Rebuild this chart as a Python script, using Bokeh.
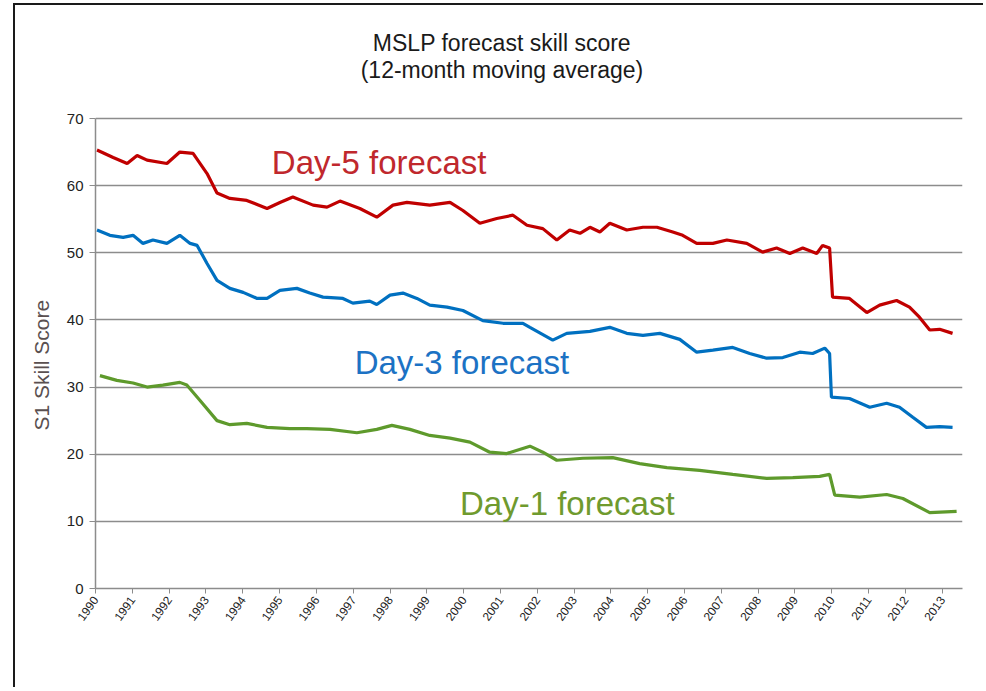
from bokeh.plotting import figure
from bokeh.models import FixedTicker, Label, Title
from bokeh.embed import file_html
from bokeh.resources import INLINE

# ---- data (decimal years, S1 skill score) ----
day5_x = [1990.04, 1990.48, 1990.86, 1991.13, 1991.40, 1991.94, 1992.29, 1992.65, 1993.03, 1993.30,
          1993.65, 1994.11, 1994.66, 1995.01, 1995.36, 1995.91, 1996.29, 1996.64, 1997.18, 1997.64,
          1998.08, 1998.46, 1999.08, 1999.63, 1999.98, 2000.44, 2000.90, 2001.34, 2001.72, 2002.15,
          2002.53, 2002.88, 2003.16, 2003.43, 2003.70, 2003.97, 2004.43, 2004.87, 2005.25, 2005.68,
          2005.95, 2006.33, 2006.77, 2007.15, 2007.69, 2008.12, 2008.50, 2008.86, 2009.21, 2009.59,
          2009.75, 2009.94, 2010.02, 2010.48, 2010.95, 2011.30, 2011.76, 2012.11, 2012.38, 2012.66,
          2012.93, 2013.28]
day5_y = [65.3, 64.2, 63.3, 64.5, 63.8, 63.3, 65.0, 64.8, 61.8, 58.9,
          58.1, 57.8, 56.6, 57.5, 58.3, 57.1, 56.8, 57.7, 56.6, 55.3,
          57.1, 57.5, 57.1, 57.5, 56.3, 54.4, 55.1, 55.6, 54.1, 53.6,
          51.9, 53.4, 52.9, 53.8, 53.1, 54.4, 53.4, 53.8, 53.8, 53.1,
          52.6, 51.4, 51.4, 51.9, 51.4, 50.1, 50.7, 49.9, 50.7, 49.9,
          51.1, 50.7, 43.4, 43.2, 41.1, 42.2, 42.9, 41.9, 40.4, 38.5,
          38.6, 38.0]

day3_x = [1990.04, 1990.39, 1990.75, 1991.02, 1991.29, 1991.56, 1991.94, 1992.29, 1992.57, 1992.76,
          1993.03, 1993.30, 1993.65, 1994.01, 1994.39, 1994.66, 1995.01, 1995.47, 1995.82, 1996.18,
          1996.72, 1996.99, 1997.45, 1997.64, 1998.00, 1998.35, 1998.73, 1999.08, 1999.55, 1999.98,
          2000.52, 2001.07, 2001.61, 2001.80, 2002.42, 2002.80, 2003.43, 2003.97, 2004.43, 2004.87,
          2005.33, 2005.87, 2006.33, 2006.77, 2007.31, 2007.77, 2008.23, 2008.67, 2009.13, 2009.48,
          2009.81, 2009.94, 2009.99, 2010.48, 2011.03, 2011.49, 2011.84, 2012.20, 2012.57, 2012.93,
          2013.28]
day3_y = [53.4, 52.6, 52.3, 52.6, 51.4, 51.9, 51.4, 52.6, 51.4, 51.1,
          48.4, 45.9, 44.7, 44.1, 43.2, 43.2, 44.4, 44.7, 44.0, 43.4,
          43.2, 42.5, 42.8, 42.3, 43.7, 44.0, 43.2, 42.2, 41.9, 41.4,
          39.9, 39.5, 39.5, 38.9, 37.0, 38.0, 38.3, 38.9, 38.0, 37.7,
          38.0, 37.1, 35.2, 35.5, 35.9, 35.0, 34.3, 34.4, 35.2, 35.0,
          35.8, 35.0, 28.5, 28.3, 27.0, 27.6, 27.0, 25.5, 24.0, 24.1,
          24.0]

day1_x = [1990.12, 1990.58, 1991.02, 1991.40, 1991.83, 1992.29, 1992.48, 1992.84, 1993.30, 1993.65,
          1994.11, 1994.66, 1995.28, 1995.74, 1996.37, 1997.10, 1997.64, 1998.05, 1998.54, 1999.08,
          1999.63, 2000.17, 2000.71, 2001.17, 2001.80, 2002.15, 2002.53, 2003.24, 2004.05, 2004.78,
          2005.52, 2006.41, 2007.31, 2008.23, 2008.94, 2009.67, 2009.94, 2010.08, 2010.76, 2011.49,
          2011.93, 2012.66, 2013.39]
day1_y = [31.7, 31.0, 30.6, 30.0, 30.3, 30.7, 30.3, 28.0, 25.0, 24.4,
          24.6, 24.0, 23.8, 23.8, 23.7, 23.2, 23.7, 24.3, 23.7, 22.8,
          22.4, 21.8, 20.3, 20.1, 21.2, 20.3, 19.1, 19.4, 19.5, 18.6,
          18.0, 17.6, 17.0, 16.4, 16.5, 16.7, 17.0, 13.9, 13.6, 14.0,
          13.4, 11.3, 11.5]

tick_years = list(range(1990, 2014))
tick_labels = [str(y) for y in tick_years]
y_ticks = [0, 10, 20, 30, 40, 50, 60, 70]

title_lines = ["MSLP forecast skill score", "(12-month moving average)"]
y_title = "S1 Skill Score"
series_names = ["Day-5 forecast", "Day-3 forecast", "Day-1 forecast"]

FONT = "Liberation Sans"
RED, BLUE, GREEN = "#C00000", "#0070C0", "#5E9A2C"

# the frame reaches up to the top of the chart so that the title sits inside it;
# the y axis itself is bounded to 0..70
p = figure(width=970, height=684, x_range=(1990, 2013.55), y_range=(0, 86.83),
           output_backend="svg", toolbar_location=None,
           min_border_left=80, min_border_right=23, min_border_top=0, min_border_bottom=101)
p.styles = {"border-left": "2px solid #1a1a1a", "border-top": "2px solid #1a1a1a",
            "margin-left": "13px", "margin-top": "3px"}
p.outline_line_color = None
p.background_fill_color = "white"
p.border_fill_color = "white"

# grid
p.xgrid.grid_line_color = None
p.ygrid.grid_line_color = "#8c8c8c"
p.ygrid.grid_line_width = 1.5
p.ygrid.ticker = FixedTicker(ticks=y_ticks)

# axes
p.yaxis.bounds = (0, 70)
p.yaxis.ticker = FixedTicker(ticks=y_ticks)
p.yaxis.major_label_text_font = FONT
p.yaxis.major_label_text_font_size = "15px"
p.yaxis.major_label_text_color = "#222222"
p.yaxis.axis_line_color = "#8c8c8c"
p.yaxis.axis_line_width = 1.5
p.yaxis.major_tick_line_color = "#8c8c8c"
p.yaxis.major_tick_in = 0
p.yaxis.major_tick_out = 6
p.yaxis.minor_tick_line_color = None
p.yaxis.major_label_standoff = 6

# y-axis title, placed along the 0..70 part of the axis
p.add_layout(Title(text=y_title, align="left", offset=158, standoff=22,
                   text_font=FONT, text_font_size="21px", text_font_style="normal",
                   text_color="#5a5050"), "left")

p.xaxis.ticker = FixedTicker(ticks=tick_years)
p.xaxis.major_label_overrides = {y: lab for y, lab in zip(tick_years, tick_labels)}
p.xaxis.major_label_orientation = 0.95
p.xaxis.major_label_text_font = FONT
p.xaxis.major_label_text_font_size = "12px"
p.xaxis.major_label_text_color = "#222222"
p.xaxis.axis_line_color = "#8c8c8c"
p.xaxis.axis_line_width = 1.5
p.xaxis.major_tick_line_color = "#8c8c8c"
p.xaxis.major_tick_in = 0
p.xaxis.major_tick_out = 5
p.xaxis.minor_tick_line_color = None
p.xaxis.major_label_standoff = 4

# lines
p.line(day5_x, day5_y, line_color=RED, line_width=3.2)
p.line(day3_x, day3_y, line_color=BLUE, line_width=3.2)
p.line(day1_x, day1_y, line_color=GREEN, line_width=3.2)

# title: two centred lines above the 70 grid line
for txt, ty in [(title_lines[0], 81.3), (title_lines[1], 77.15)]:
    p.add_layout(Label(x=2001.04, y=ty, text=txt, text_align="center", text_baseline="middle",
                       text_font=FONT, text_font_size="23px", text_color="#1a1a1a"))

# series labels
for name, lx, ly, col in [(series_names[0], 1994.79, 63.5, "#C0282D"),
                          (series_names[1], 1997.04, 33.7, "#1C72C4"),
                          (series_names[2], 1999.90, 12.7, "#6F9A2E")]:
    p.add_layout(Label(x=lx, y=ly, text=name, text_align="left", text_baseline="middle",
                       text_font=FONT, text_font_size="33px", text_color=col))

open("out.html", "w").write(file_html(p, INLINE))
